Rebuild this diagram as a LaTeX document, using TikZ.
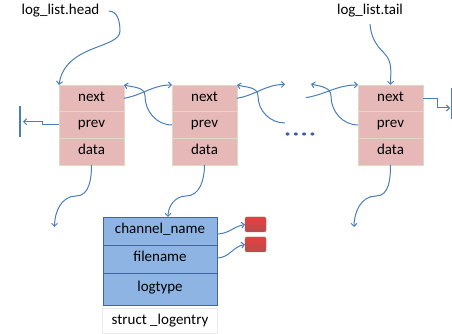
\documentclass[tikz,border=0pt]{standalone}
\usepackage{fontspec}
\setmainfont{Carlito}
\usetikzlibrary{positioning,arrows.meta}
\definecolor{cellpink}{HTML}{E6B9B8}
\definecolor{cellrim}{HTML}{DDD9C3}
\definecolor{fieldblue}{HTML}{8EB4E3}
\definecolor{fieldrim}{HTML}{3F66A0}
\definecolor{linkblue}{HTML}{4A7EBB}
\definecolor{dotblue}{HTML}{3F5F9F}
\tikzset{
    cell/.style={
           rectangle,
           draw=cellrim, thick,
           fill=cellpink,
           minimum width=65pt, minimum height=26.67pt,
           inner sep=0pt, outer sep=0pt,
           text height=1.6ex, text depth=0.4ex,
           text centered,
           },
}
\tikzset{
    field/.style={
           rectangle,
           draw=fieldrim, thick,
           fill=fieldblue,
           minimum width=114pt,
           inner sep=0pt, outer sep=0pt,
           text height=1.6ex, text depth=0.4ex,
           text centered,
           },
}
\tikzset{
    tag/.style={
           rectangle,
           draw=black!8, thick,
           minimum width=115pt, minimum height=25pt,
           inner sep=0pt, outer sep=0pt,
           text centered,
           },
}
\tikzset{
    redtab/.style={
           rectangle, rounded corners=1.5pt,
           draw=red!45!black!60, 
           top color=red!35!pinkish, bottom color=red!60!black!70,
           minimum width=21pt, minimum height=15pt,
           inner sep=0pt, outer sep=0pt,
           },
}
\definecolor{pinkish}{HTML}{D9625F}
\tikzset{
    ptr/.style={
           draw=linkblue, line width=1pt,
           -{Straight Barb[length=3pt,width=6pt]},
           },
}

\begin{document}
\begin{tikzpicture}[x=1pt,y=1pt,font=\fontsize{15}{18}\selectfont]
\useasboundingbox (0,0) rectangle (452,334);
% list entries
\node[cell](next1) at (91.5,235.7){next};
\node[cell,below=0pt of next1](prev1){prev};
\node[cell,below=0pt of prev1](data1){data};
\node[cell](next2) at (204.5,235.7){next};
\node[cell,below=0pt of next2](prev2){prev};
\node[cell,below=0pt of prev2](data2){data};
\node[cell](next3) at (390.5,235.7){next};
\node[cell,below=0pt of next3](prev3){prev};
\node[cell,below=0pt of prev3](data3){data};
% the struct
\node[field,minimum height=28pt](chan) at (160,103){channel\_name};
\node[field,minimum height=28pt,below=0pt of chan](file){filename};
\node[field,minimum height=32pt,below=0pt of file](ltype){logtype};
\node[tag,below=3pt of ltype](tagname){struct \_logentry};
\node[redtab](tab1) at (255.5,109.5){};
\node[redtab,below=5pt of tab1](tab2){};
% labels
\node[anchor=base](headlbl) at (60.5,319){log\_list.head};
\node[anchor=base](taillbl) at (370,319){log\_list.tail};
% free ends
\coordinate (cut1in) at (285,249.5);
\coordinate (cut1out) at (285,211);
\coordinate (cut2out) at (306,236.3);
\coordinate (cut2in) at (311,250);
\coordinate (nil1) at (54.5,107);
\coordinate (nil3) at (354,107);
\coordinate (gndL) at (20,212.3);
\coordinate (gndR) at (451.5,226);
% ground bars
\draw[linkblue,line width=1.2pt] ([yshift=16pt]gndL) -- ([yshift=-15pt]gndL);
\draw[linkblue,line width=1.2pt] ([yshift=20pt]gndR) -- ([yshift=-11pt]gndR);
% dots
\foreach \dx in {0,8.3,16.6,24.9}
  \fill[dotblue] (287.5+\dx,200) ellipse (2pt and 1.6pt);
% head and tail
\draw[ptr] ([xshift=6pt]headlbl.east) to[out=0,in=90] (120,303) .. controls (120,285) and (65,290) .. (next1.north west);
\draw[ptr] ([yshift=-3pt]taillbl.south) to[out=-85,in=135] (384,281) to[out=-45,in=90] (next3.north);
% links
\draw[ptr] (next1.east) to[out=10,in=180] (next2.north west);
\draw[ptr] (prev2.west) to[out=180,in=-90] (145,238) to[out=90,in=-15] (next1.north east);
\draw[ptr] (next2.east) to[out=10,in=180] (cut1in);
\draw[ptr] (cut1out) to[out=180,in=-90] (258,238) to[out=90,in=-15] (next2.north east);
\draw[ptr] (cut2out) to[out=10,in=180] (next3.north west);
\draw[ptr] (prev3.west) to[out=180,in=-90] (331,238) to[out=90,in=-15] (cut2in);
\draw[ptr] (prev1.west) -- ++(-17,0) |- ([xshift=3pt]gndL);
\draw[ptr] (next3.east) -- ++(14,0) |- ([xshift=-1.5pt]gndR);
% data
\draw[ptr] (data1.south) to[out=-90,in=0] (76,138) to[out=180,in=90] (nil1);
\draw[ptr] (data2.south) to[out=-90,in=0] (186,138) to[out=180,in=90] ([xshift=8pt]chan.north);
\draw[ptr] (data3.south) to[out=-90,in=0] (376,138) to[out=180,in=90] (nil3);
\draw[ptr] ([yshift=-3pt]chan.east) to[out=0,in=190] (tab1.west);
\draw[ptr] ([yshift=1pt]file.east) to[out=0,in=190] (tab2.west);
\end{tikzpicture}
\end{document}
